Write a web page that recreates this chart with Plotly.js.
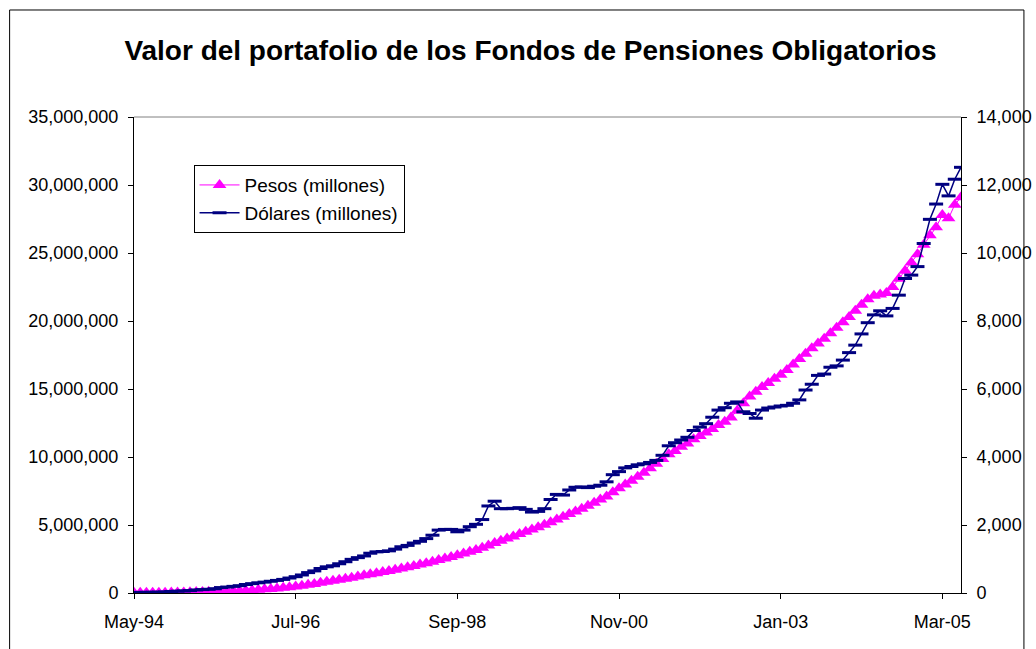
<!DOCTYPE html>
<html>
<head>
<meta charset="utf-8">
<script src="https://cdn.plot.ly/plotly-3.0.1.min.js"></script>
<style>
html,body{margin:0;padding:0;background:#fff;}
#chart{width:1036px;height:649px;}
</style>
</head>
<body>
<div id="chart"></div>
<script>
// Monthly categories May-94 .. Jun-05
var monthNames = ["Jan","Feb","Mar","Apr","May","Jun","Jul","Aug","Sep","Oct","Nov","Dec"];
var startYear = 1994, startMonth = 4, nMonths = 134;
var months = [];
for (var k = 0; k < nMonths; k++) {
  var m = (startMonth + k) % 12;
  var y = startYear + Math.floor((startMonth + k) / 12);
  months.push(monthNames[m] + "-" + String(y).slice(2));
}
var tickLabels = ["May-94","Jul-96","Sep-98","Nov-00","Jan-03","Mar-05"];

// Pesos (millones) - left axis
var pesos = [
  10000, 12000, 15000, 18000, 20000, 25000, 33000, 40000, 45000, 55000,
  65000, 75000, 85000, 95000, 110000, 125000, 140000, 160000, 180000, 210000,
  240000, 270000, 300000, 340000, 380000, 420000, 470000, 530000, 600000, 670000,
  750000, 830000, 900000, 970000, 1050000, 1130000, 1210000, 1300000, 1380000, 1460000,
  1540000, 1620000, 1710000, 1800000, 1890000, 1990000, 2090000, 2190000, 2300000, 2420000,
  2530000, 2650000, 2780000, 2900000, 3030000, 3170000, 3320000, 3500000, 3680000, 3840000,
  4000000, 4160000, 4330000, 4500000, 4660000, 4830000, 5010000, 5200000, 5400000, 5600000,
  5800000, 6000000, 6200000, 6420000, 6640000, 6870000, 7100000, 7400000, 7700000, 7980000,
  8260000, 8550000, 8850000, 9180000, 9500000, 9850000, 10200000, 10450000, 10750000, 11000000,
  11300000, 11550000, 11800000, 12050000, 12350000, 12600000, 12900000, 13400000, 13950000, 14450000,
  14800000, 15150000, 15450000, 15750000, 16050000, 16400000, 16800000, 17200000, 17600000, 18000000,
  18350000, 18700000, 19100000, 19500000, 19900000, 20300000, 20750000, 21200000, 21600000, 21850000,
  21950000, 22050000, 22500000, 23100000, 23700000, 24300000, 24900000, 25600000, 26300000, 26900000,
  27800000, 27550000, 28550000, 29100000
];

// Dólares (millones) - right axis
var dolares = [
  15, 18, 20, 22, 25, 30, 45, 55, 60, 70,
  90, 100, 110, 125, 160, 175, 195, 215, 250, 275,
  300, 320, 345, 370, 400, 440, 480, 530, 600, 650,
  720, 770, 800, 860, 920, 990, 1040, 1090, 1170, 1210,
  1220, 1240, 1290, 1360, 1400, 1470, 1520, 1600, 1700, 1850,
  1870, 1870, 1800, 1850, 1950, 2020, 2160, 2560, 2700, 2480,
  2480, 2490, 2510, 2460, 2380, 2400, 2480, 2750, 2900, 2880,
  3030, 3110, 3120, 3100, 3140, 3170, 3270, 3480, 3570, 3680,
  3720, 3770, 3800, 3840, 3900, 4050, 4330, 4420, 4500, 4580,
  4780, 4880, 4980, 5170, 5380, 5450, 5580, 5620, 5330, 5280,
  5140, 5380, 5440, 5470, 5500, 5520, 5580, 5680, 5970, 6140,
  6400, 6440, 6640, 6680, 6850, 7070, 7290, 7620, 7950, 8180,
  8300, 8150, 8370, 8760, 9250, 9350, 9600, 10280, 10990, 11440,
  12020, 11680, 12170, 12520
];

var FONT = "'Liberation Sans', Arial, sans-serif";

var traces = [
  {
    x: months, y: pesos, name: "Pesos (millones)",
    type: "scatter", mode: "lines+markers",
    line: {color: "#FF00FF", width: 1},
    marker: {symbol: "triangle-up", size: 12, color: "#FF00FF"},
    xaxis: "x", yaxis: "y", hoverinfo: "skip"
  },
  {
    x: months, y: dolares, name: "Dólares (millones)",
    type: "scatter", mode: "lines+markers",
    line: {color: "#000080", width: 1.5},
    marker: {symbol: "line-ew", size: 10, color: "#000080", line: {color: "#000080", width: 3}},
    xaxis: "x", yaxis: "y2", hoverinfo: "skip"
  }
];

var ptick = [0, 26, 52, 78, 104, 130];

var layout = {
  width: 1036, height: 649,
  margin: {l: 133.5, r: 74.5, t: 117, b: 56},
  paper_bgcolor: "#ffffff", plot_bgcolor: "#ffffff",
  font: {family: FONT, size: 18, color: "#000"},
  title: {
    text: "<b>Valor del portafolio de los Fondos de Pensiones Obligatorios</b>",
    font: {family: FONT, size: 28, color: "#000"},
    x: 0.512, xanchor: "center", xref: "container",
    y: 0.923, yanchor: "middle", yref: "container"
  },
  showlegend: true,
  legend: {
    x: 0.072, y: 0.899, xanchor: "left", yanchor: "top",
    bgcolor: "#ffffff", bordercolor: "#000", borderwidth: 1,
    font: {family: FONT, size: 19, color: "#000"},
    itemwidth: 40, tracegroupgap: 0
  },
  xaxis: {
    type: "category", range: [0, nMonths - 1],
    tickvals: tickLabels, ticktext: tickLabels,
    ticks: "outside", ticklen: 5, tickcolor: "#000", tickwidth: 1,
    showline: true, linecolor: "#000", linewidth: 1,
    showgrid: false, zeroline: false,
    tickfont: {family: FONT, size: 18, color: "#000"},
    ticklabelstandoff: 7
  },
  xaxis2: {
    overlaying: "x", anchor: "y", side: "bottom",
    range: [0, nMonths - 1], tickvals: ptick,
    ticks: "inside", ticklen: 5, tickcolor: "#000",
    showticklabels: false, showline: false, showgrid: false, zeroline: false
  },
  yaxis: {
    range: [0, 35000000], dtick: 5000000, tick0: 0,
    tickformat: ",d",
    ticks: "outside", ticklen: 5, tickcolor: "#000",
    showline: true, linecolor: "#000", linewidth: 1,
    showgrid: false, zeroline: false,
    tickfont: {family: FONT, size: 18, color: "#000"},
    ticklabelstandoff: 6
  },
  yaxis2: {
    overlaying: "y", side: "right", anchor: "x",
    range: [0, 14000], dtick: 2000, tick0: 0,
    tickformat: ",d",
    ticks: "outside", ticklen: 5, tickcolor: "#000",
    showline: true, linecolor: "#000", linewidth: 1,
    showgrid: false, zeroline: false,
    tickfont: {family: FONT, size: 18, color: "#000"},
    ticklabelstandoff: 6
  },
  yaxis3: {
    overlaying: "y", side: "left", anchor: "x",
    range: [0, 35000000], dtick: 5000000, tick0: 0,
    ticks: "inside", ticklen: 5, tickcolor: "#000",
    showticklabels: false, showline: false, showgrid: false, zeroline: false
  },
  yaxis4: {
    overlaying: "y", side: "right", anchor: "x",
    range: [0, 14000], dtick: 2000, tick0: 0,
    ticks: "inside", ticklen: 5, tickcolor: "#000",
    showticklabels: false, showline: false, showgrid: false, zeroline: false
  },
  shapes: [
    {type: "line", xref: "paper", yref: "paper", x0: 0, x1: 1, y0: 1, y1: 1,
     line: {color: "#808080", width: 1}},
    {type: "rect", xref: "paper", yref: "paper",
     x0: -0.1504, x1: 1.0761, y0: -0.25, y1: 1.2248,
     line: {color: "#000", width: 1}, fillcolor: "rgba(0,0,0,0)"}
  ]
};

Plotly.newPlot("chart", traces, layout, {staticPlot: true, displayModeBar: false});
</script>
</body>
</html>
